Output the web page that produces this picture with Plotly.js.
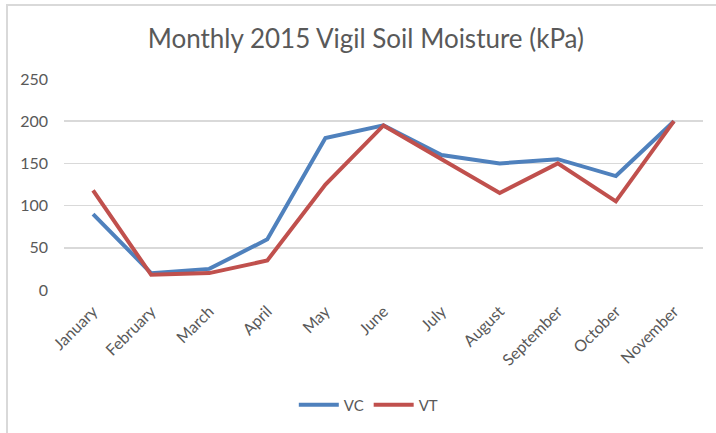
<!DOCTYPE html>
<html>
<head>
<meta charset="utf-8">
<script src="https://cdn.plot.ly/plotly-3.0.1.min.js"></script>
<style>
html,body{margin:0;padding:0;background:#fff;}
#frame{position:absolute;left:6px;top:4px;width:710px;height:429px;border-top:2px solid #d9d9d9;border-left:2px solid #d9d9d9;box-sizing:border-box;}
#chart{position:absolute;left:0;top:0;width:716px;height:433px;}
</style>
</head>
<body>
<div id="frame"></div>
<div id="chart"></div>
<script>
var months = ["January","February","March","April","May","June","July","August","September","October","November"];
var vcValues = [90, 20, 25, 60, 180, 195, 160, 150, 155, 135, 200];
var vtValues = [118, 18, 20, 35, 125, 195, 155, 115, 150, 105, 200];
var yTicks = [0, 50, 100, 150, 200, 250];

var fontFam = "Lato, 'Open Sans', sans-serif";
var traces = [
  {x: months, y: vcValues, name: "VC", type: "scatter", mode: "lines",
   line: {color: "#4f81bd", width: 4}},
  {x: months, y: vtValues, name: "VT", type: "scatter", mode: "lines",
   line: {color: "#c0504d", width: 4}}
];
var layout = {
  width: 716, height: 433,
  paper_bgcolor: "rgba(0,0,0,0)", plot_bgcolor: "rgba(0,0,0,0)",
  margin: {l: 64, r: 13, t: 79, b: 140},
  font: {family: fontFam, color: "#595959", size: 15},
  title: {text: "Monthly 2015 Vigil Soil Moisture (kPa)", x: 0.511, xanchor: "center", y: 0.91, yanchor: "middle",
          font: {family: fontFam, size: 26, color: "#595959"}},
  xaxis: {type: "category", tickangle: -45, showgrid: false, zeroline: false, showline: false,
          ticks: "", ticklabelstandoff: 8, tickfont: {size: 16, color: "#595959"}, range: [-0.5, 10.5]},
  yaxis: {range: [0, 250], tickvals: yTicks, showgrid: true, gridcolor: "#d9d9d9", gridwidth: 1.5,
          zeroline: false, showline: false, ticks: "", ticklabelstandoff: 15,
          tickfont: {size: 16, color: "#595959"}},
  showlegend: true,
  legend: {orientation: "h", x: 0.477, xanchor: "center", y: -0.545, yanchor: "middle",
           font: {size: 15, color: "#595959"}, itemwidth: 40, traceorder: "normal"}
};
Plotly.newPlot("chart", traces, layout, {displayModeBar: false, staticPlot: true});
</script>
</body>
</html>
